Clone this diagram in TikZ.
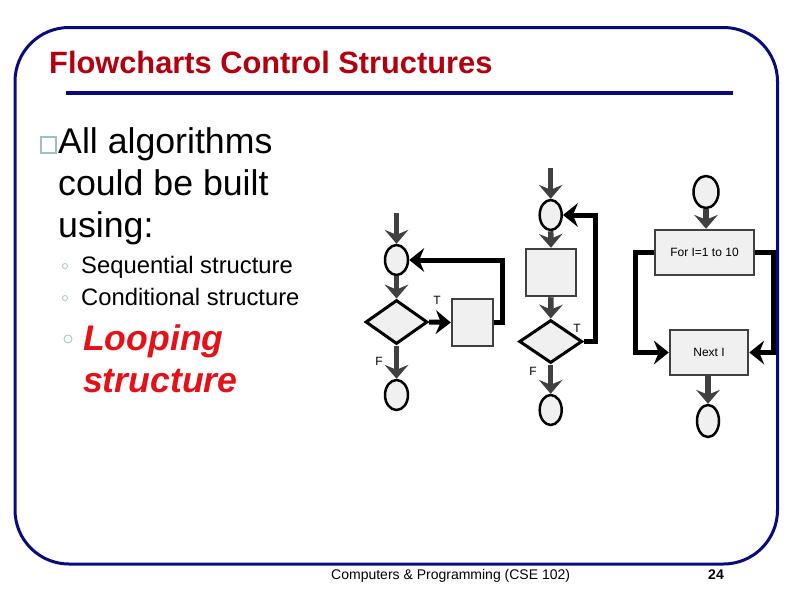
\documentclass[tikz,border=0pt]{standalone}
\usepackage{fontspec}
\setmainfont{Liberation Sans}
\usetikzlibrary{shapes.geometric,arrows.meta}
\definecolor{framenavy}{RGB}{10,10,128}
\definecolor{titlered}{RGB}{180,0,14}
\definecolor{loopred}{RGB}{230,16,24}
\definecolor{fillgray}{RGB}{240,240,240}
\definecolor{darkg}{RGB}{64,64,64}
\definecolor{bulletc}{RGB}{160,190,198}
\tikzset{
  ell/.style={ellipse, draw=black, line width=2.5pt, fill=fillgray, minimum width=23pt, minimum height=30pt, inner sep=0pt},
  dia/.style={diamond, draw=black, line width=3pt, fill=fillgray, minimum width=62pt, minimum height=44pt, inner sep=0pt},
  boxx/.style={rectangle, draw=darkg, line width=2.5pt, fill=fillgray, inner sep=0pt, font=\fontsize{12}{12}\selectfont},
  garrow/.style={draw=darkg, line width=5.5pt, -{Stealth[length=14pt,width=24pt,inset=5pt,line width=0pt]}},
  karrow/.style={draw=black, line width=5pt, -{Stealth[length=15pt,width=24pt,inset=5pt,line width=0pt]}},
  lbl/.style={inner sep=0pt, font=\fontsize{12}{12}\selectfont},
  txt/.style={anchor=base west, inner sep=0pt},
  subb/.style={draw=bulletc, line width=0.8pt}
}
\begin{document}
\begin{tikzpicture}[x=1pt,y=-1pt]
\useasboundingbox (0,0) rectangle (792,605);
% frame
\draw[framenavy, line width=3pt, rounded corners=54pt] (15,27.5) rectangle (777.5,564);
% title
\node[txt, font=\fontsize{30.8}{30.8}\selectfont\bfseries, text=titlered] (title) at (49,73) {Flowcharts Control Structures};
\draw[framenavy, line width=4pt] (66,93) -- (733,93);
% main bullet
\draw[bulletc, line width=1.2pt] (41,137) rectangle (56,153);
\node[txt, font=\fontsize{35.7}{35.7}\selectfont] (l1) at (58,153) {All algorithms};
\node[txt, font=\fontsize{35.7}{35.7}\selectfont] (l2) at (58,195) {could be built};
\node[txt, font=\fontsize{35.7}{35.7}\selectfont] (l3) at (58,237) {using:};
% sub bullets
\draw[subb] (65,266) circle (2.5);
\node[txt, font=\fontsize{23.8}{23.8}\selectfont] (s1) at (81,273) {Sequential structure};
\draw[subb] (65,298) circle (2.5);
\node[txt, font=\fontsize{23.8}{23.8}\selectfont] (s2) at (81,305) {Conditional structure};
\draw[subb] (68,339) circle (4);
\node[txt, font=\fontsize{35.6}{35.6}\selectfont\bfseries\itshape, text=loopred] (s3) at (83,350) {Looping};
\node[txt, font=\fontsize{35.6}{35.6}\selectfont\bfseries\itshape, text=loopred] (s4) at (83,392) {structure};
% footer
\node[txt, font=\fontsize{14}{14}\selectfont] (foot) at (331,579) {Computers \& Programming (CSE 102)};
\node[anchor=base, inner sep=0pt, font=\fontsize{14}{14}\selectfont\bfseries] (pg) at (716,579) {24};

% ---------- flowchart 1 (while) ----------
\coordinate (a1) at (396.5,213);
\node[ell] (e1) at (396.5,260) {};
\node[dia] (d1) at (396.5,322) {};
\node[boxx, minimum width=41pt, minimum height=47pt] (b1) at (472.5,322.5) {};
\node[ell] (e1b) at (396.5,395) {};
\coordinate (lp1) at (502,0);
\draw[garrow] (a1) -- (e1.north);
\draw[garrow] (e1.south) -- (d1.north);
\draw[karrow] (d1.east) -- (b1.west);
\draw[karrow] (b1.east) -- (b1.east -| lp1) |- (e1.east);
\draw[garrow] (d1.south) -- (e1b.north);
\node[lbl] (t1) at (437,300) {T};
\node[lbl] (f1) at (379,361) {F};

% ---------- flowchart 2 (do-while) ----------
\coordinate (a2) at (550.7,168);
\node[ell, minimum width=22pt] (e2) at (550.7,215) {};
\node[boxx, minimum width=50pt, minimum height=47pt] (b2) at (551,272.5) {};
\node[dia, minimum width=63pt, minimum height=43pt] (d2) at (550.7,341.5) {};
\node[ell, minimum width=22pt] (e2b) at (550.7,410) {};
\coordinate (lp2) at (595,0);
\draw[garrow] (a2) -- (e2.north);
\draw[garrow] (e2.south) -- (b2.north);
\draw[garrow] (b2.south) -- (d2.north);
\draw[karrow] (d2.east) -- (d2.east -| lp2) |- (e2.east);
\draw[garrow] (d2.south) -- (e2b.north);
\node[lbl] (t2) at (577,328) {T};
\node[lbl] (f2) at (533,371) {F};

% ---------- flowchart 3 (for) ----------
\node[ell, minimum width=25pt, minimum height=32pt] (e3) at (706,192) {};
\node[boxx, minimum width=99pt, minimum height=45pt] (b3) at (704.5,252.5) {For I=1 to 10};
\node[boxx, minimum width=78pt, minimum height=45pt] (n3) at (709,352.5) {Next I};
\node[ell, minimum width=22pt, minimum height=32pt] (e3b) at (708,421) {};
\coordinate (lp3a) at (635,0);
\coordinate (lp3b) at (773,0);
\draw[garrow] (e3.south) -- (e3.south |- b3.north);
\draw[karrow] (b3.west) -- (b3.west -| lp3a) |- (n3.west);
\draw[karrow] (b3.east) -- (b3.east -| lp3b) |- (n3.east);
\draw[garrow] (n3.south -| e3b.north) -- (e3b.north);
\end{tikzpicture}
\end{document}
